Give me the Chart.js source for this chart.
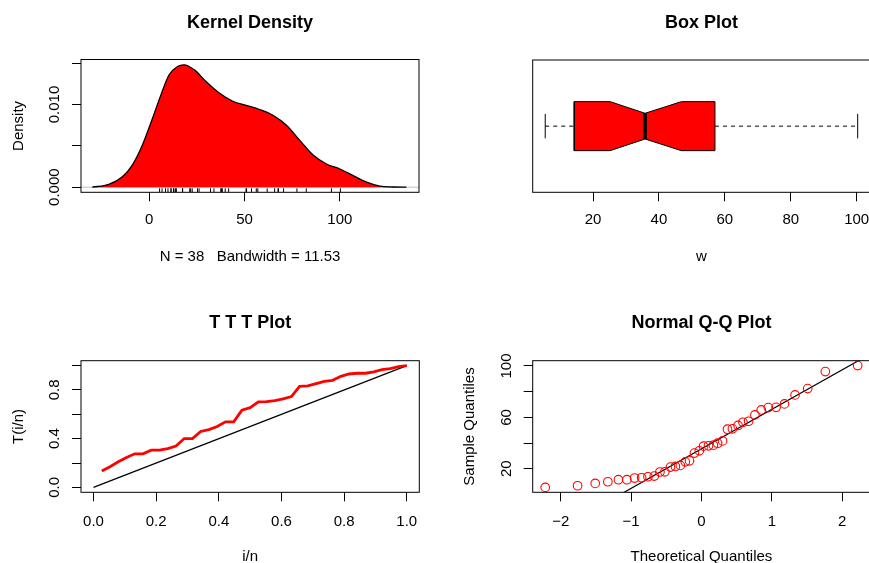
<!DOCTYPE html>
<html>
<head>
<meta charset="utf-8">
<script src="https://cdn.jsdelivr.net/npm/chart.js@4.4.0/dist/chart.umd.min.js"></script>
<style>
  html, body { margin: 0; padding: 0; background: #fff; }
  #wrap { position: relative; width: 869px; height: 563px; overflow: hidden; }
  canvas { position: absolute; }
</style>
</head>
<body>
<div id="wrap">
  <canvas id="density" width="440" height="300" style="left:0px;top:0px"></canvas>
  <canvas id="box" width="445" height="300" style="left:440px;top:0px"></canvas>
  <canvas id="ttt" width="440" height="300" style="left:0px;top:300px"></canvas>
  <canvas id="qq" width="445" height="300" style="left:440px;top:300px"></canvas>
</div>
<script>
// sample values (sorted)
const w = [5.5, 6.8, 8.6, 9.9, 11.5, 11.5, 12.8, 13.0, 13.8, 14.3,
           17.5, 17.6, 21.3, 21.8, 22.6, 25.4, 26.2, 32.2, 34.0, 37.6,
           37.9, 38.4, 39.9, 41.7, 50.8, 51.1, 53.7, 56.2, 57.0, 61.9,
           65.8, 67.6, 67.8, 70.5, 77.5, 82.4, 95.6, 100.3];

// kernel density curve
const densX = [-29.8, -21.1, -14.0, -8.8, -3.5, 1.8, 6.2, 10.5, 14.9, 18.4, 23.7, 29.8, 36.8, 43.9,
               50.9, 57.9, 64.9, 72.0, 78.9, 86.0, 93.0, 100.0, 107.0, 114.0, 121.0, 128.0, 134.9];
const densY = [0, 0.00033, 0.00126, 0.00267, 0.0051, 0.00834, 0.01117, 0.0136, 0.01461, 0.01481, 0.0142, 0.0128, 0.0114, 0.0104,
               0.0099, 0.0094, 0.0087, 0.0075, 0.0057, 0.0039, 0.0028, 0.0022, 0.0014, 0.0006, 0.00012, 0.00002, 0];
const densTicksX = [0, 50, 100];
const densLabelsX = ['0', '50', '100'];
const densTicksY = [0, 0.005, 0.010, 0.015];
const densLabelsY = ['0.000', '', '0.010', ''];

// box plot: lower whisker, Q1, median, Q3, upper whisker
const boxStats = [5.5, 14.3, 35.8, 57.0, 100.3];
const boxNotch = [25.2, 46.8];
const boxTicksX = [20, 40, 60, 80, 100];
const boxLabelsX = ['20', '40', '60', '80', '100'];

// total time on test
const tttX = [0.0263, 0.0526, 0.0789, 0.1053, 0.1316, 0.1579, 0.1842, 0.2105, 0.2368, 0.2632,
              0.2895, 0.3158, 0.3421, 0.3684, 0.3947, 0.4211, 0.4474, 0.4737, 0.5, 0.5263,
              0.5526, 0.5789, 0.6053, 0.6316, 0.6579, 0.6842, 0.7105, 0.7368, 0.7632, 0.7895,
              0.8158, 0.8421, 0.8684, 0.8947, 0.9211, 0.9474, 0.9737, 1.0];
const tttY = [0.134, 0.170, 0.210, 0.246, 0.276, 0.276, 0.306, 0.306, 0.319, 0.339,
              0.401, 0.401, 0.459, 0.475, 0.500, 0.538, 0.538, 0.634, 0.655, 0.702,
              0.704, 0.713, 0.726, 0.745, 0.830, 0.833, 0.852, 0.871, 0.879, 0.912,
              0.931, 0.937, 0.937, 0.948, 0.966, 0.975, 0.991, 1.000];
const tttTicks = [0, 0.2, 0.4, 0.6, 0.8, 1.0];
const tttLabelsX = ['0.0', '0.2', '0.4', '0.6', '0.8', '1.0'];
const tttLabelsY = ['0.0', '', '0.4', '', '0.8', ''];

// normal Q-Q
const qqX = [-2.22, -1.76, -1.51, -1.33, -1.18, -1.06, -0.95, -0.85, -0.76, -0.67,
             -0.59, -0.52, -0.44, -0.37, -0.30, -0.23, -0.17, -0.10, -0.03, 0.03,
             0.10, 0.17, 0.23, 0.30, 0.37, 0.44, 0.52, 0.59, 0.67, 0.76,
             0.85, 0.95, 1.06, 1.18, 1.33, 1.51, 1.76, 2.22];
const qqLineX = [-2.4, 2.4];
const qqLineY = [-38.3, 109.3];
const qqTicksX = [-2, -1, 0, 1, 2];
const qqLabelsX = ['\u22122', '\u22121', '0', '1', '2'];
const qqTicksY = [20, 40, 60, 80, 100];
const qqLabelsY = ['20', '', '60', '', '100'];

const FONT = '"Liberation Sans", Arial, Helvetica, sans-serif';
Chart.defaults.font.family = FONT;
Chart.defaults.font.size = 15;
Chart.defaults.color = '#000';

// R style frame around the plot region
const frame = {
    id: 'frame',
    afterDraw(chart) {
        const a = chart.chartArea;
        const ctx = chart.ctx;
        ctx.save();
        ctx.strokeStyle = '#000';
        ctx.lineWidth = 1;
        ctx.strokeRect(a.left, a.top, a.right - a.left, a.bottom - a.top);
        ctx.restore();
    }
};

// padding so rotated y tick labels sit 26px left of the frame
function tickPad(labels) {
    const ctx = document.createElement('canvas').getContext('2d');
    ctx.font = '15px ' + FONT;
    const widest = Math.max(...labels.map(t => ctx.measureText(t).width));
    return 26 - 9 - widest / 2;
}

function xAxis(min, max, ticks, labels, title, pad) {
    return {
        type: 'linear', min: min, max: max, bounds: 'data',
        afterBuildTicks: s => { s.ticks = ticks.map(v => ({ value: v })); },
        afterFit: s => { s.height = 107.7; },
        grid: { drawOnChartArea: false, tickLength: 9, color: '#000', lineWidth: 1 },
        border: { display: false },
        ticks: { autoSkip: false, padding: pad, minRotation: 0, maxRotation: 0, callback: (v, i) => labels[i] },
        title: { display: true, text: title, font: { size: 15 }, padding: { top: 0, bottom: 34.3 } }
    };
}

function yAxis(min, max, ticks, labels, title, width, titlePad) {
    return {
        type: 'linear', min: min, max: max, bounds: 'data',
        afterBuildTicks: s => { s.ticks = ticks.map(v => ({ value: v })); },
        afterFit: s => { s.width = width; },
        grid: { drawOnChartArea: false, tickLength: 9, color: '#000', lineWidth: 1 },
        border: { display: false },
        ticks: { autoSkip: false, padding: tickPad(labels), minRotation: 90, maxRotation: 90, crossAlign: 'center', callback: (v, i) => labels[i] },
        title: { display: true, text: title, font: { size: 15 }, padding: { top: titlePad, bottom: 0 } }
    };
}

function base(title, titleBottom, padding, scales) {
    return {
        responsive: false,
        animation: false,
        devicePixelRatio: 1,
        events: [],
        layout: { padding: padding },
        plugins: {
            legend: { display: false },
            tooltip: { enabled: false },
            title: { display: true, text: title, fullSize: false, font: { size: 18, weight: 'bold' }, padding: { top: 12.2, bottom: titleBottom } }
        },
        scales: scales
    };
}

const pts = (xs, ys) => xs.map((x, i) => ({ x: x, y: ys[i] }));

// Kernel Density
const densXlim = [-35.7, 141.5];
const densYlim = [-0.00062, 0.01545];
const rugY = densYlim[0] + 0.015 * (densYlim[1] - densYlim[0]);
new Chart(document.getElementById('density'), {
    type: 'scatter',
    data: {
        datasets: [
            { data: w.map(v => ({ x: v, y: rugY })), pointStyle: 'line', rotation: 90, pointRadius: 2, borderColor: '#000', borderWidth: 1 },
            { data: pts(densX, densY), showLine: true, fill: 'origin', backgroundColor: '#ff0000', borderColor: '#000',
              borderWidth: 1.3, pointRadius: 0, cubicInterpolationMode: 'monotone' },
            { data: densXlim.map(x => ({ x: x, y: 0 })), showLine: true, borderColor: '#bebebe', borderWidth: 1, pointRadius: 0 }
        ]
    },
    options: base('Kernel Density', 25.7, { left: 0, right: 21, top: 0, bottom: 0 }, {
        x: xAxis(densXlim[0], densXlim[1], densTicksX, densLabelsX, 'N = 38   Bandwidth = 11.53', 10),
        y: yAxis(densYlim[0], densYlim[1], densTicksY, densLabelsY, 'Density', 81, 9.5)
    }),
    plugins: [frame]
});

// Box Plot (notched, horizontal)
const [lo, q1, med, q3, hi] = boxStats;
const bh = 0.2, nh = 0.105, cap = 0.1;
const boxPoly = [
    { x: q1, y: 1 - bh }, { x: boxNotch[0], y: 1 - bh }, { x: med, y: 1 - nh }, { x: boxNotch[1], y: 1 - bh }, { x: q3, y: 1 - bh },
    { x: q3, y: 1 + bh }, { x: boxNotch[1], y: 1 + bh }, { x: med, y: 1 + nh }, { x: boxNotch[0], y: 1 + bh }, { x: q1, y: 1 + bh },
    { x: q1, y: 1 - bh }
];
new Chart(document.getElementById('box'), {
    type: 'scatter',
    data: {
        datasets: [
            { data: [{ x: med, y: 1 - nh }, { x: med, y: 1 + nh }], showLine: true, borderColor: '#000', borderWidth: 3.5, pointRadius: 0 },
            { data: boxPoly, showLine: true, fill: 'shape', backgroundColor: '#ff0000', borderColor: '#000', borderWidth: 1, pointRadius: 0, borderJoinStyle: 'miter' },
            { data: [{ x: lo, y: 1 }, { x: q1, y: 1 }, { x: q1, y: null }, { x: q3, y: 1 }, { x: hi, y: 1 }],
              showLine: true, spanGaps: false, borderColor: '#000', borderWidth: 1, borderDash: [4, 4], pointRadius: 0 },
            { data: [{ x: lo, y: 1 - cap }, { x: lo, y: 1 + cap }, { x: lo, y: null }, { x: hi, y: 1 - cap }, { x: hi, y: 1 + cap }],
              showLine: true, spanGaps: false, borderColor: '#000', borderWidth: 1, pointRadius: 0 }
        ]
    },
    options: base('Box Plot', 26.2, { left: 92.7, right: 14.8, top: 0, bottom: 0 }, {
        x: xAxis(1.7, 104.1, boxTicksX, boxLabelsX, 'w', 10),
        y: { type: 'linear', min: 0.46, max: 1.54, display: false }
    }),
    plugins: [frame]
});

// T T T Plot
new Chart(document.getElementById('ttt'), {
    type: 'scatter',
    data: {
        datasets: [
            { data: pts(tttX, tttY), showLine: true, borderColor: '#ff0000', borderWidth: 2.8, pointRadius: 0 },
            { data: [{ x: 0, y: 0 }, { x: 1, y: 1 }], showLine: true, borderColor: '#000', borderWidth: 1.2, pointRadius: 0 }
        ]
    },
    options: base('T T T Plot', 26.9, { left: 0, right: 20.7, top: 0, bottom: 0 }, {
        x: xAxis(-0.04, 1.04, tttTicks, tttLabelsX, 'i/n', 11.8),
        y: yAxis(-0.04, 1.04, tttTicks, tttLabelsY, 'T(i/n)', 81, 9.8)
    }),
    plugins: [frame]
});

// Normal Q-Q Plot
new Chart(document.getElementById('qq'), {
    type: 'scatter',
    data: {
        datasets: [
            { data: pts(qqX, w), pointRadius: 4.3, pointBorderWidth: 1.1, pointBorderColor: '#ff0000', pointBackgroundColor: 'rgba(0,0,0,0)' },
            { data: pts(qqLineX, qqLineY), showLine: true, borderColor: '#000', borderWidth: 1.2, pointRadius: 0 }
        ]
    },
    options: base('Normal Q-Q Plot', 26.9, { left: 0, right: 14.8, top: 0, bottom: 0 }, {
        x: xAxis(-2.398, 2.398, qqTicksX, qqLabelsX, 'Theoretical Quantiles', 11.8),
        y: yAxis(1.7, 104.1, qqTicksY, qqLabelsY, 'Sample Quantiles', 92.7, 20.7)
    }),
    plugins: [frame]
});
</script>
</body>
</html>
